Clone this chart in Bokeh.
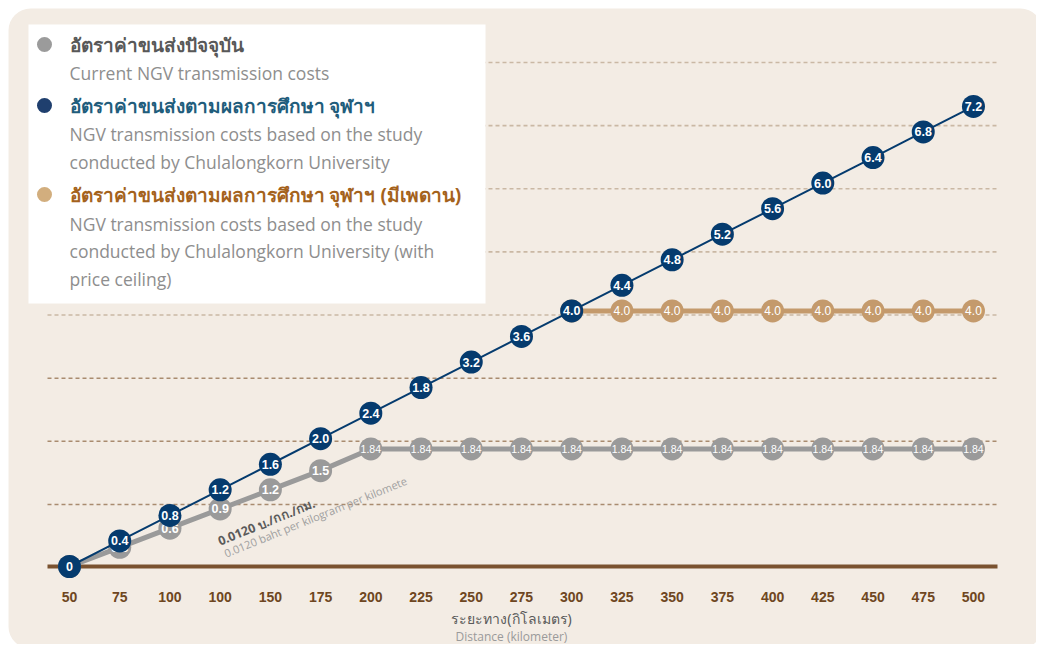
from bokeh.plotting import figure
from bokeh.models import Range1d, Label, BoxAnnotation, ColumnDataSource
from bokeh.core.properties import value
from bokeh.embed import file_html
from bokeh.resources import INLINE

# ---------------- data ----------------
x_labels = ["50", "75", "100", "100", "150", "175", "200", "225", "250", "275",
            "300", "325", "350", "375", "400", "425", "450", "475", "500"]
blue_values = [0, 0.4, 0.8, 1.2, 1.6, 2.0, 2.4, 2.8, 3.2, 3.6, 4.0, 4.4, 4.8,
               5.2, 5.6, 6.0, 6.4, 6.8, 7.2]
blue_labels = ["0", "0.4", "0.8", "1.2", "1.6", "2.0", "2.4", "1.8", "3.2", "3.6",
               "4.0", "4.4", "4.8", "5.2", "5.6", "6.0", "6.4", "6.8", "7.2"]
gray_values = [0, 0.3, 0.6, 0.9, 1.2, 1.5, 1.84, 1.84, 1.84, 1.84, 1.84, 1.84,
               1.84, 1.84, 1.84, 1.84, 1.84, 1.84, 1.84]
gray_labels = ["", "0.3", "0.6", "0.9", "1.2", "1.5", "1.84", "1.84", "1.84", "1.84",
               "1.84", "1.84", "1.84", "1.84", "1.84", "1.84", "1.84", "1.84", "1.84"]
gold_x_labels = ["300", "325", "350", "375", "400", "425", "450", "475", "500"]
gold_values = [4.0, 4.0, 4.0, 4.0, 4.0, 4.0, 4.0, 4.0, 4.0]
gold_labels = ["4.0", "4.0", "4.0", "4.0", "4.0", "4.0", "4.0", "4.0", "4.0"]
grid_low = [1, 2, 3]
grid_high = [4, 5, 6, 7, 8]

legend_th = ["อัตราค่าขนส่งปัจจุบัน",
             "อัตราค่าขนส่งตามผลการศึกษา จุฬาฯ",
             "อัตราค่าขนส่งตามผลการศึกษา จุฬาฯ (มีเพดาน)"]
legend_en = [["Current NGV transmission costs"],
             ["NGV transmission costs based on the study",
              "conducted by Chulalongkorn University"],
             ["NGV transmission costs based on the study",
              "conducted by Chulalongkorn University (with",
              "price ceiling)"]]
axis_title_th = "ระยะทาง(กิโลเมตร)"
axis_title_en = "Distance (kilometer)"
note_th = "0.0120 บ./กก./กม."
note_en = "0.0120 baht per kilogram per kilomete"

# ---------------- layout helpers (page pixel -> data) ----------------
PX0, DXP = 69.0, 50.22   # page x of first category, px per category
PY0, DYP = 566.0, 63.9   # page y of value 0, px per unit
GY0, GDY = 567.1, 63.14  # grid scale


def dx(px):
    return (px - PX0) / DXP


def dy(py):
    return (PY0 - py) / DYP


W, H = 1036, 644
GL, GR = 47, 997   # extent of grid / baseline

BG = "#f3ece4"
BLUE = "#053b6e"
GRAY = "#9a9a9a"
GOLD = "#c49a6c"
BROWN = "#7a5230"

p = figure(width=W, height=H, output_backend="svg", toolbar_location=None,
           x_range=Range1d(dx(0), dx(W)), y_range=Range1d(dy(H), dy(0)),
           x_axis_location=None, y_axis_location=None,
           min_border_left=0, min_border_right=0, min_border_top=0, min_border_bottom=0)
p.extra_y_ranges = {"grid": Range1d((GY0 - H) / GDY, (GY0 - 0) / GDY)}
p.background_fill_color = "white"
p.border_fill_color = "white"
p.outline_line_color = None
p.grid.visible = False

# rounded panel
p.add_layout(BoxAnnotation(left=dx(8), right=dx(1042), top=dy(8), bottom=dy(648),
                           fill_color=BG, fill_alpha=1.0, line_color=None,
                           border_radius=22, level="underlay"))

# dashed grid lines
p.segment(x0=[dx(GL)] * len(grid_low), x1=[dx(GR)] * len(grid_low), y0=grid_low, y1=grid_low,
          y_range_name="grid", line_color="#a98b6f", line_dash="4 3", line_width=1.6)
p.segment(x0=[dx(GL)] * len(grid_high), x1=[dx(GR)] * len(grid_high), y0=grid_high, y1=grid_high,
          y_range_name="grid", line_color="#cab8a4", line_dash="4 3", line_width=1.6)

# baseline
p.segment(x0=[dx(GL)], x1=[dx(GR)], y0=[0], y1=[0], line_color=BROWN, line_width=4)

# category labels (x axis)
idx = list(range(len(x_labels)))
p.text(idx, [dy(596)] * len(idx), text=x_labels, text_color="#6e4621",
       text_font=value("Liberation Sans"), text_font_style="bold", text_font_size="14px",
       text_align="center", text_baseline="middle")

# gray series
gsrc = ColumnDataSource(dict(x=idx, y=gray_values, t=gray_labels))
p.line("x", "y", source=gsrc, line_color=GRAY, line_width=5)
p.scatter("x", "y", source=gsrc, size=23, fill_color=GRAY, line_color=None)
n_rise = 6
p.text(idx[:n_rise], gray_values[:n_rise], text=gray_labels[:n_rise], text_color="white",
       text_font=value("Liberation Sans"), text_font_style="bold", text_font_size="12.5px",
       text_align="center", text_baseline="middle")
p.text(idx[n_rise:], gray_values[n_rise:], text=gray_labels[n_rise:], text_color="white",
       text_font=value("Liberation Sans"), text_font_size="10.5px",
       text_align="center", text_baseline="middle")

# gold series
gold_idx = [x_labels.index("300") + i for i in range(len(gold_x_labels))]
osrc = ColumnDataSource(dict(x=gold_idx, y=gold_values, t=gold_labels))
p.line("x", "y", source=osrc, line_color=GOLD, line_width=5)
p.scatter("x", "y", source=osrc, size=23, fill_color=GOLD, line_color=None)
p.text("x", "y", text="t", source=osrc, text_color="white",
       text_font=value("Liberation Sans"), text_font_size="12px",
       text_align="center", text_baseline="middle")

# blue series
bsrc = ColumnDataSource(dict(x=idx, y=blue_values, t=blue_labels))
p.line("x", "y", source=bsrc, line_color=BLUE, line_width=2)
p.scatter("x", "y", source=bsrc, size=23, fill_color=BLUE, line_color=None)
p.text("x", "y", text="t", source=bsrc, text_color="white",
       text_font=value("Liberation Sans"), text_font_style="bold", text_font_size="12.5px",
       text_align="center", text_baseline="middle")

# rotated note
p.add_layout(Label(x=dx(218), y=dy(541), text=note_th, angle=22, angle_units="deg",
                   text_font="Noto Sans", text_font_style="bold", text_font_size="12.5px",
                   text_color="#5a5a5a", text_align="left", text_baseline="middle"))
p.add_layout(Label(x=dx(224), y=dy(553), text=note_en, angle=22, angle_units="deg",
                   text_font="Open Sans", text_font_size="11px",
                   text_color="#a0a0a0", text_align="left", text_baseline="middle"))

# axis title
p.add_layout(Label(x=dx(511), y=dy(618), text=axis_title_th, text_font="Noto Sans",
                   text_font_size="14px", text_color="#5a5a5a",
                   text_align="center", text_baseline="middle"))
p.add_layout(Label(x=dx(511), y=dy(636), text=axis_title_en, text_font="Open Sans",
                   text_font_size="12px", text_color="#9a9a9a",
                   text_align="center", text_baseline="middle"))

# legend box
p.add_layout(BoxAnnotation(left=dx(28), right=dx(485), top=dy(24), bottom=dy(303),
                           fill_color="white", fill_alpha=1.0, line_color=None))
dot_colors = ["#9b9b9b", "#1f3f6e", "#d2ae7e"]
th_colors = ["#585858", "#1f5d7c", "#a4621c"]
th_y = [44, 105, 194]
en_y = [[72], [133, 161], [223, 250, 278]]
for k in range(3):
    p.add_layout(BoxAnnotation(left=dx(44 - 7.5), right=dx(44 + 7.5),
                               top=dy(th_y[k] - 7.5), bottom=dy(th_y[k] + 7.5),
                               fill_color=dot_colors[k], fill_alpha=1.0, line_color=None,
                               border_radius=8))
    p.add_layout(Label(x=dx(69), y=dy(th_y[k]), text=legend_th[k], text_font="Noto Sans",
                       text_font_style="bold", text_font_size="19px", text_color=th_colors[k],
                       text_align="left", text_baseline="middle"))
    for line, yy in zip(legend_en[k], en_y[k]):
        p.add_layout(Label(x=dx(69), y=dy(yy), text=line, text_font="Open Sans",
                           text_font_size="17.5px", text_color="#8e8e8e",
                           text_align="left", text_baseline="middle"))

open("out.html", "w").write(file_html(p, INLINE))
